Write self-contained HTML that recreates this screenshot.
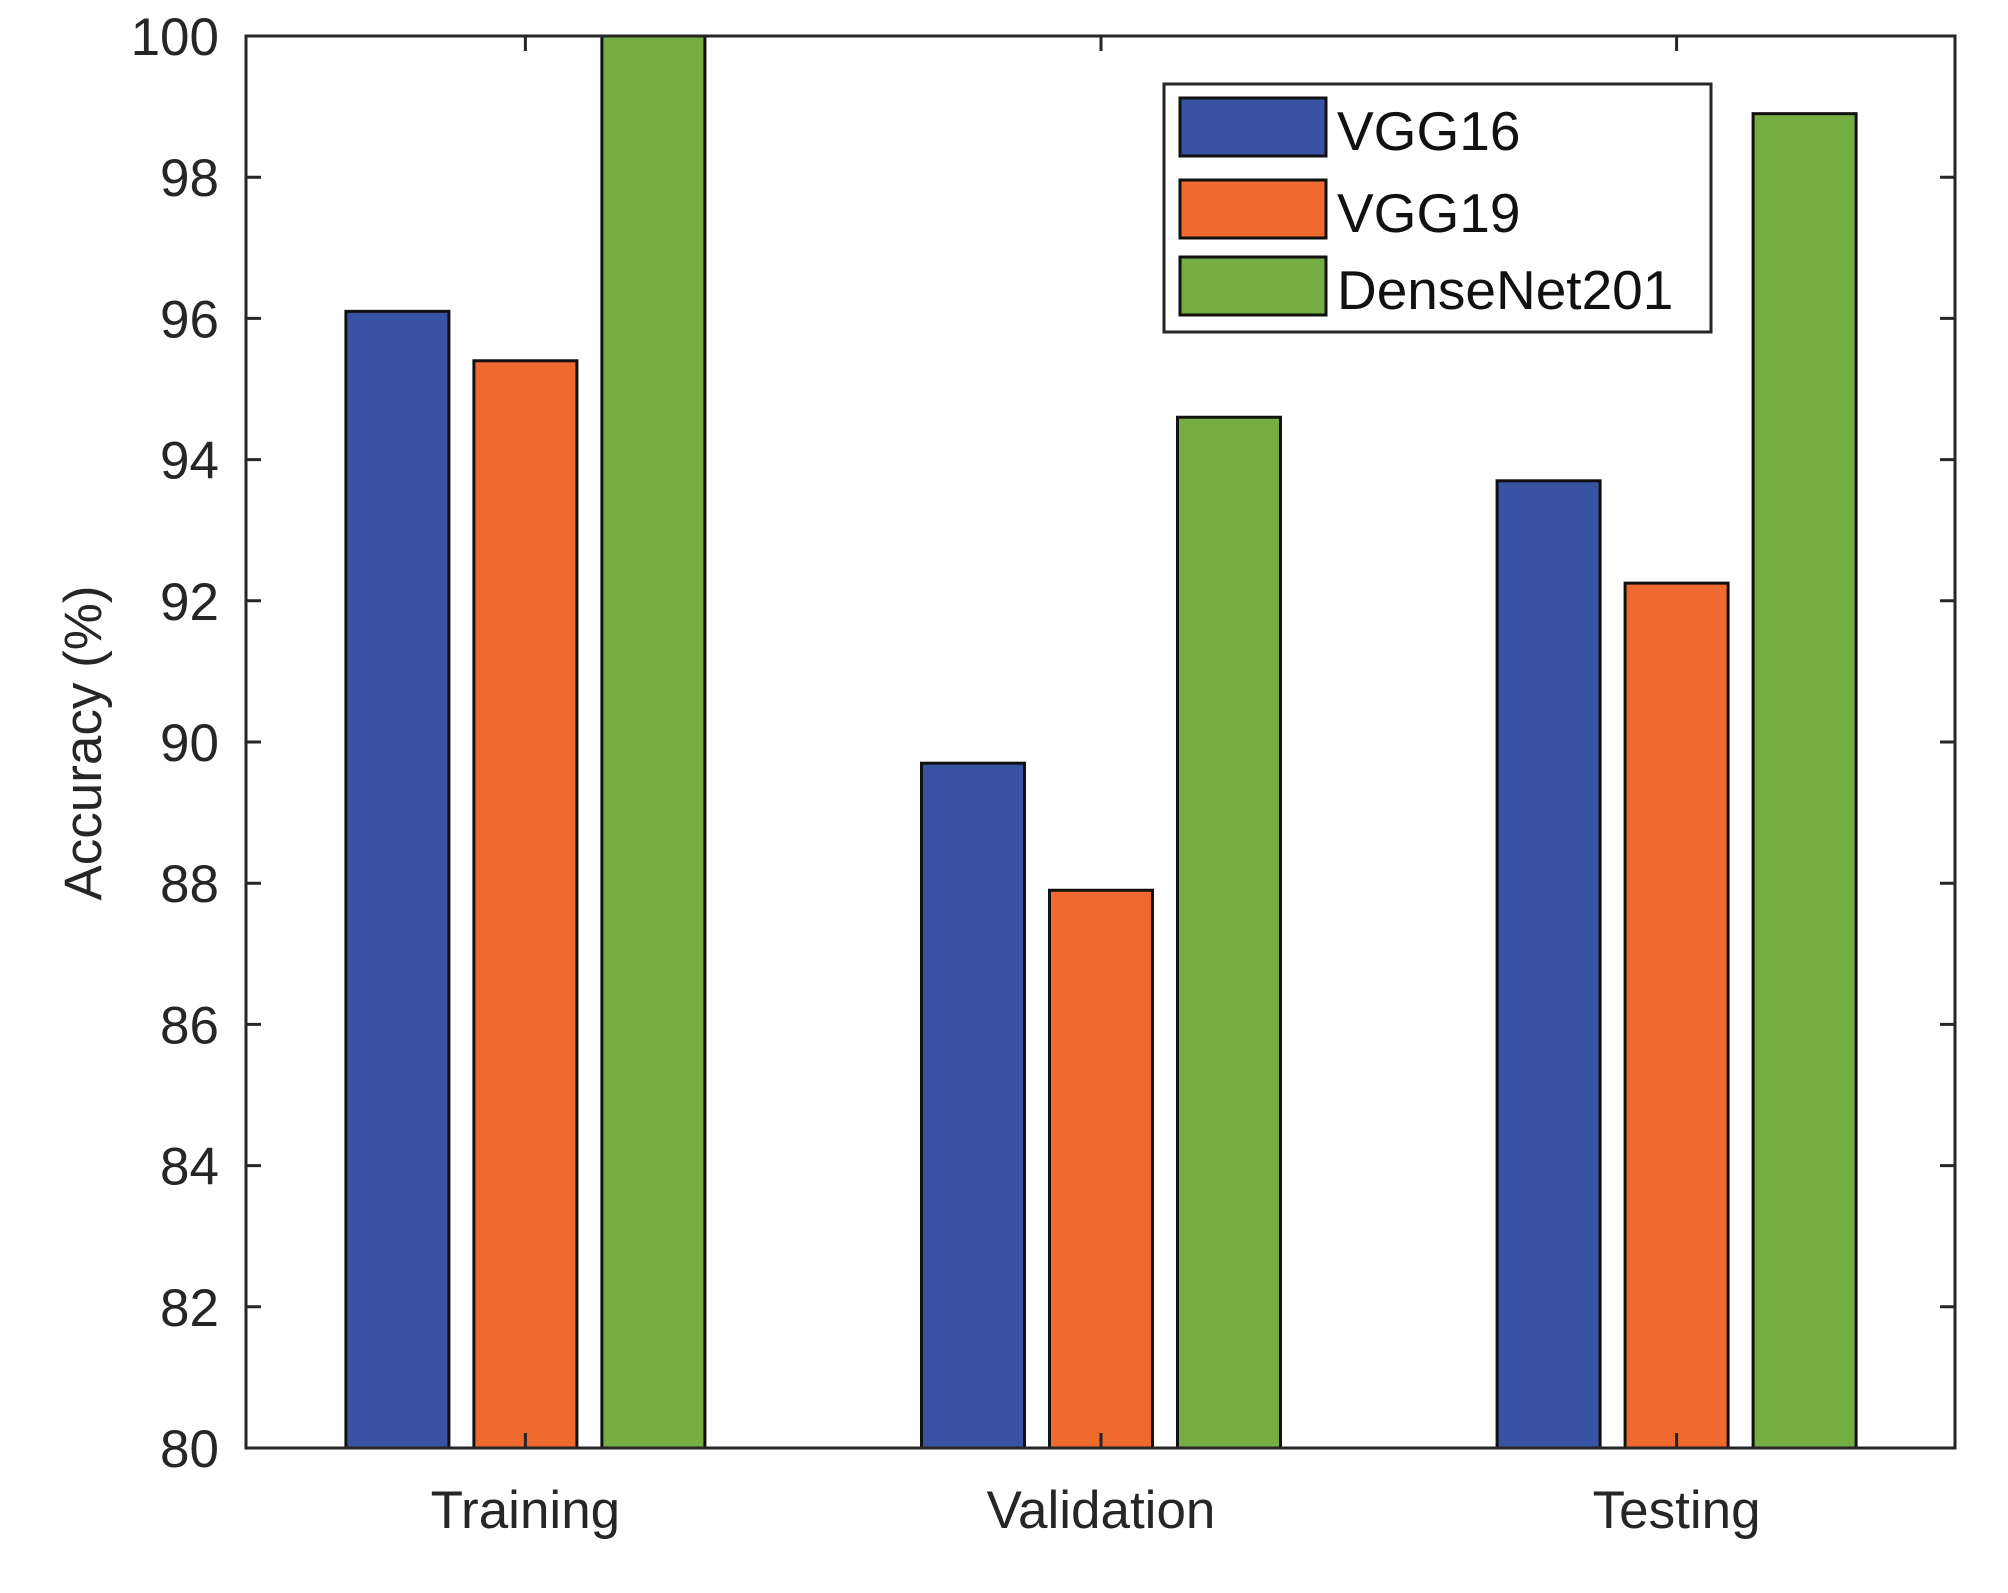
<!DOCTYPE html>
<html><head><meta charset="utf-8"><style>
html,body{margin:0;padding:0;background:#fff;}
svg{display:block;font-family:"Liberation Sans",sans-serif;}
</style></head><body>
<svg id="chart" width="2008" height="1593" viewBox="0 0 2008 1593" xmlns="http://www.w3.org/2000/svg"></svg>
<script>
const categories = ["Training", "Validation", "Testing"];
const seriesNames = ["VGG16", "VGG19", "DenseNet201"];
const vgg16 = [96.1, 89.7, 93.7];
const vgg19 = [95.4, 87.9, 92.25];
const densenet201 = [100, 94.6, 98.9];
const yTicks = [80, 82, 84, 86, 88, 90, 92, 94, 96, 98, 100];

const colors = ["#3953a4", "#f06a30", "#74ad42"];
const series = [vgg16, vgg19, densenet201];
const L = 246, R = 1955, T = 36, B = 1448;
const yMin = 80, yMax = 100;
const y = v => B - (v - yMin) / (yMax - yMin) * (B - T);
const x = c => 1101 + (c - 2) * 575.6;
const NS = "http://www.w3.org/2000/svg";
const svg = document.getElementById("chart");
function mk(tag, attrs, parent) {
  const e = document.createElementNS(NS, tag);
  for (const k in attrs) e.setAttribute(k, attrs[k]);
  (parent || svg).appendChild(e);
  return e;
}
const barW = 103, off = 128;
series.forEach((s, si) => {
  s.forEach((v, ci) => {
    const cx = x(ci + 1) + (si - 1) * off;
    const r = mk("rect", {x: cx - barW / 2, y: y(v), width: barW, height: B - y(v), fill: colors[si], stroke: "#111", "stroke-width": 3});
    
    
  });
});
const box = mk("rect", {x: L, y: T, width: R - L, height: B - T, fill: "none", stroke: "#262626", "stroke-width": 3});


yTicks.forEach(t => {
  const yy = y(t);
  const tk = mk("path", {d: `M${L},${yy}h15M${R},${yy}h-15`, stroke: "#262626", "stroke-width": 3});
  
  
  const lb = mk("text", {x: 219, y: yy + 19, "text-anchor": "end", "font-size": 53, fill: "#262626"});
  lb.textContent = t;
  
  
});
categories.forEach((c, i) => {
  const xx = x(i + 1);
  const tk = mk("path", {d: `M${xx},${B}v-15M${xx},${T}v15`, stroke: "#262626", "stroke-width": 3});
  
  
  const lb = mk("text", {x: xx, y: 1528, "text-anchor": "middle", "font-size": 53, fill: "#262626"});
  lb.textContent = c;
  
  
});
const yt = mk("text", {x: 0, y: 0, transform: "translate(101,743) rotate(-90)", "text-anchor": "middle", "font-size": 53, fill: "#262626"});
yt.textContent = "Accuracy (%)";


const lg = mk("g", {});


mk("rect", {x: 1164, y: 84, width: 547, height: 248, fill: "#fff", stroke: "#262626", "stroke-width": 3}, lg);
const rowsY = [98, 180, 257];
seriesNames.forEach((n, i) => {
  const sw = mk("rect", {x: 1180, y: rowsY[i], width: 146, height: 58, fill: colors[i], stroke: "#111", "stroke-width": 3}, lg);
  
  
  const t = mk("text", {x: 1337, y: rowsY[i] + 52, "font-size": 55, fill: "#111"}, lg);
  t.textContent = n;
  
  
});
</script>
</body></html>
